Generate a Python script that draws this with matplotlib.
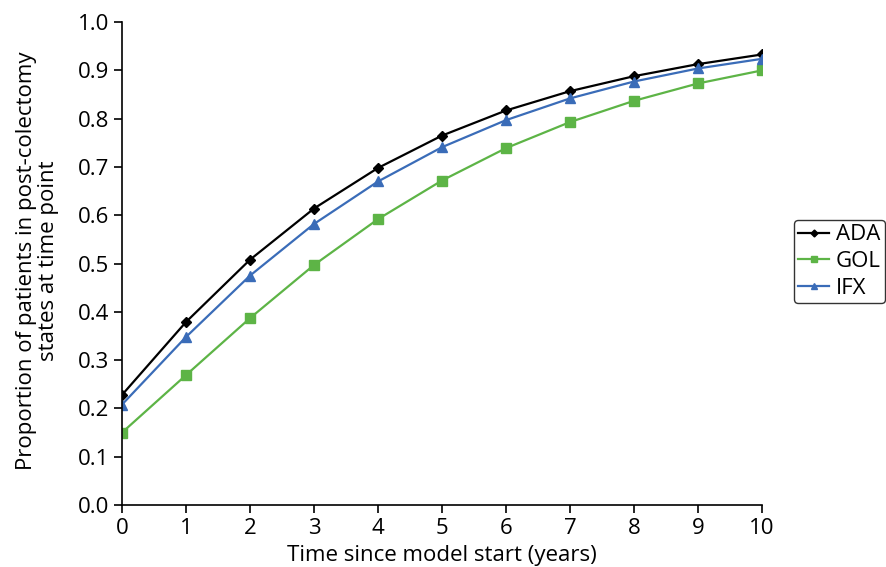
import matplotlib
matplotlib.use("Agg")
import matplotlib.pyplot as plt

plt.rcParams['font.family'] = ['Open Sans', 'DejaVu Sans']

years = list(range(11))
ada = [0.228, 0.379, 0.508, 0.614, 0.698, 0.765, 0.817, 0.857, 0.888, 0.913, 0.933]
gol = [0.150, 0.269, 0.387, 0.497, 0.592, 0.672, 0.739, 0.793, 0.837, 0.873, 0.900]
ifx = [0.208, 0.348, 0.475, 0.582, 0.670, 0.741, 0.797, 0.842, 0.877, 0.904, 0.924]
series_names = ["ADA", "GOL", "IFX"]

fs = 16
fig = plt.figure(figsize=(8.86, 5.67), dpi=100)
ax = fig.add_axes([0.1377, 0.1093, 0.7223, 0.8517])

ax.plot(years, ada, color='black', marker='D', markersize=5, lw=1.6, label=series_names[0])
ax.plot(years, gol, color='#5db446', marker='s', markersize=6.5, lw=1.6, label=series_names[1])
ax.plot(years, ifx, color='#3a6cb8', marker='^', markersize=7, lw=1.6, label=series_names[2])

ax.set_xlim(0, 10)
ax.set_ylim(0, 1.0)
ax.set_xticks(range(0, 11))
ax.set_yticks([i / 10 for i in range(11)])
ax.set_yticklabels([f"{i/10:.1f}" for i in range(11)])
for s in ['top', 'right']:
    ax.spines[s].set_visible(False)
for s in ['left', 'bottom']:
    ax.spines[s].set_linewidth(1.2)
ax.tick_params(direction='out', length=6, width=1.2, labelsize=fs, pad=3)
ax.set_xlabel("Time since model start (years)", fontsize=fs)
ax.set_ylabel("Proportion of patients in post-colectomy\nstates at time point", fontsize=fs,
              linespacing=1.1)
ax.yaxis.set_label_coords(-0.098, 0.505)
ax.xaxis.set_label_coords(0.5, -0.083)

leg = fig.legend(loc='upper left', bbox_to_anchor=(0.896, 0.612), bbox_transform=fig.transFigure,
                 fontsize=fs, frameon=True, fancybox=True, edgecolor='black',
                 handlelength=1.4, handletextpad=0.3, borderpad=0.2, labelspacing=0.25,
                 borderaxespad=0, markerscale=0.7)
leg.get_frame().set_linewidth(1.0)

fig.savefig("out.png", dpi=100)
